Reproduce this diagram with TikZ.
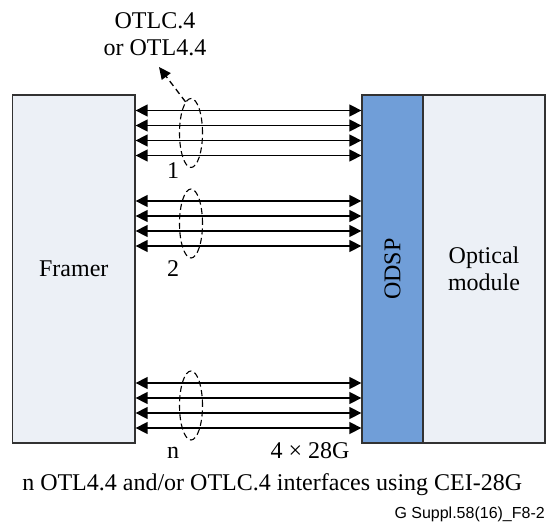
\documentclass[tikz,border=0pt]{standalone}
\usepackage{fontspec}
\setmainfont{Liberation Serif}
\newfontfamily\arialfont{Liberation Sans}
\usetikzlibrary{arrows.meta,shapes.geometric}
\definecolor{boxfill}{RGB}{236,240,246}
\definecolor{dspblue}{RGB}{112,158,216}
\definecolor{edgegray}{RGB}{50,50,50}
\begin{document}
\begin{tikzpicture}[x=1pt,y=-1pt,
  blockbox/.style={draw=edgegray,line width=1.3pt,fill=boxfill,inner sep=0pt,
    font=\fontsize{24}{27}\selectfont,align=center},
  lane/.style={line width=1.5pt,
    {Triangle[length=12pt,width=12pt]}-{Triangle[length=12pt,width=12pt]}},
  bundle/.style={draw,ellipse,dash pattern=on 6pt off 3.5pt,line width=1.1pt,
    minimum width=23pt,minimum height=69pt,inner sep=0pt},
  lbl/.style={font=\fontsize{24}{27}\selectfont,inner sep=0pt,anchor=base},
  pointer/.style={line width=1.3pt,dash pattern=on 6pt off 4pt,
    -{Triangle[length=12pt,width=11pt]}}
]
\useasboundingbox (0,0) rectangle (546,524);

\node[blockbox,minimum width=122.5pt,minimum height=348pt] (framer) at (73.75,269) {Framer};
\node[blockbox,fill=dspblue,minimum width=61pt,minimum height=348pt] (odsp) at (392.5,269) {};
\node[lbl,anchor=center,rotate=90] (odsptext) at (odsp.center) {ODSP};
\node[blockbox,minimum width=122pt,minimum height=348pt] (optical) at (484,269) {Optical\\module};

\foreach \yy in {110.5,125.5,140.5,155.5,201,216,231,246,383,398,413,428}
  \draw[lane] (framer.east |- 0,\yy) -- (odsp.west |- 0,\yy);

\node[bundle] (e1) at (191,133) {};
\node[bundle] (e2) at (191,223.5) {};
\node[bundle] (e3) at (191,405.5) {};

\node[lbl] (otl1) at (155,29) {OTLC.4};
\node[lbl] (otl2) at (155,55.7) {or OTL4.4};
\coordinate (otltip) at (159,67);
\draw[pointer] (e1.100) -- (otltip);

\node[lbl] (n1) at (173,178) {1};
\node[lbl] (n2) at (173,276.7) {2};
\node[lbl] (nn) at (173,458) {n};
\node[lbl] (rate) at (310,458) {4 × 28G};
\node[lbl] (caption) at (272.2,490) {n OTL4.4 and/or OTLC.4 interfaces using CEI-28G};
\node[inner sep=0pt,anchor=base east,font=\arialfont\fontsize{16}{19}\selectfont] (figid) at (545,518) {G Suppl.58(16)\_F8-2};
\end{tikzpicture}
\end{document}
